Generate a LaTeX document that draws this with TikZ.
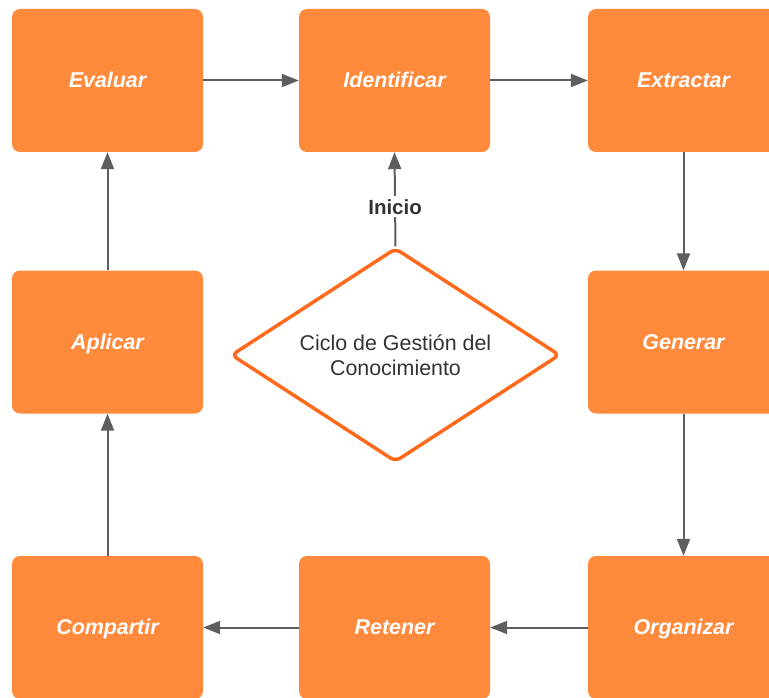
\documentclass[tikz,border=0pt]{standalone}
\usepackage{fontspec}
\setmainfont{Liberation Sans}
\usetikzlibrary{shapes.geometric,arrows.meta}
\definecolor{naranja}{HTML}{FF8A3B}
\definecolor{borde}{HTML}{FF6A1C}
\definecolor{gris}{HTML}{5E5E5E}
\definecolor{texto}{HTML}{333333}
\tikzset{
	paso/.style={fill=naranja, rounded corners=8pt, minimum width=191pt, minimum height=143pt, inner sep=0pt, text height=15.5pt, text depth=1pt, text=white, font=\fontsize{21.4}{25}\selectfont\bfseries\itshape},
	flecha/.style={draw=gris, line width=2pt, -{Triangle[length=17pt,width=13pt]}},
}

\begin{document}
\begin{tikzpicture}[x=1pt,y=-1pt]
	\useasboundingbox (0,0) rectangle (769,698);
	\clip (0,0) rectangle (769,698);

	\node[paso] (evaluar) at (107.5,80.5) {Evaluar};
	\node[paso] (identificar) at (394.5,80.5) {Identificar};
	\node[paso] (extractar) at (683.5,80.5) {Extractar};
	\node[paso] (aplicar) at (107.5,342) {Aplicar};
	\node[paso] (generar) at (683.5,342) {Generar};
	\node[paso] (compartir) at (107.5,627.5) {Compartir};
	\node[paso] (retener) at (394.5,627.5) {Retener};
	\node[paso] (organizar) at (683.5,627.5) {Organizar};

	\node[diamond, aspect=1.55, draw=borde, line width=3.5pt, rounded corners=6pt, minimum width=329pt, minimum height=214pt, inner sep=0pt, align=center, text=texto, font=\fontsize{21.4}{25}\selectfont] (ciclo) at (395.5,355) {Ciclo de Gestión del\\Conocimiento};

	\draw[flecha] (evaluar) -- (identificar);
	\draw[flecha] (identificar) -- (extractar);
	\draw[flecha] (extractar) -- (generar);
	\draw[flecha] (generar) -- (organizar);
	\draw[flecha] (organizar) -- (retener);
	\draw[flecha] (retener) -- (compartir);
	\draw[flecha] (compartir) -- (aplicar);
	\draw[flecha] (aplicar) -- (evaluar);
	\draw[flecha] (ciclo.north) -- node[pos=0.42, fill=white, inner sep=3pt, text=texto, font=\fontsize{20.5}{24}\selectfont\bfseries] (inicio) {Inicio} (identificar.south);
\end{tikzpicture}
\end{document}
